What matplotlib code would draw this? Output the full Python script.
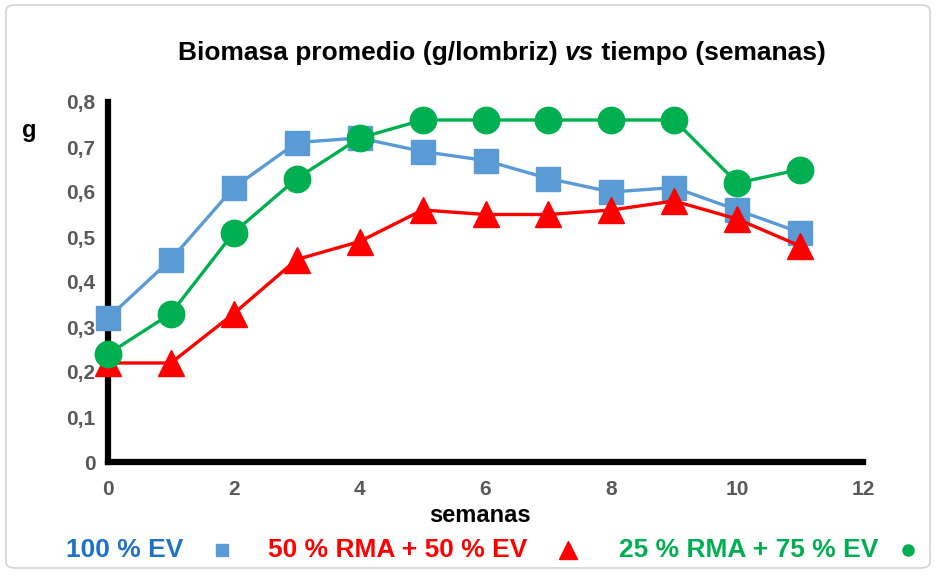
import matplotlib
matplotlib.use("Agg")
import matplotlib.pyplot as plt
from matplotlib.patches import FancyBboxPatch
from matplotlib.lines import Line2D

semanas = list(range(12))
ev100 = [0.32, 0.45, 0.61, 0.71, 0.72, 0.69, 0.67, 0.63, 0.60, 0.61, 0.56, 0.51]
rma50 = [0.22, 0.22, 0.33, 0.45, 0.49, 0.56, 0.55, 0.55, 0.56, 0.58, 0.54, 0.48]
rma25 = [0.24, 0.33, 0.51, 0.63, 0.72, 0.76, 0.76, 0.76, 0.76, 0.76, 0.62, 0.65]
xticks = [0, 2, 4, 6, 8, 10, 12]
yticks = [0, 0.1, 0.2, 0.3, 0.4, 0.5, 0.6, 0.7, 0.8]
ylabels = ["0", "0,1", "0,2", "0,3", "0,4", "0,5", "0,6", "0,7", "0,8"]

plt.rcParams['font.family'] = ['Liberation Sans', 'DejaVu Sans']
plt.rcParams['font.weight'] = 'bold'

W, H = 938, 573
fig = plt.figure(figsize=(W / 100, H / 100), dpi=100)
ax = fig.add_axes([108 / W, 1 - 462 / H, (863 - 108) / W, (462 - 102) / H])

# marco gris
fig.patches.append(FancyBboxPatch((6 / W, 5 / H), (W - 14) / W, (H - 10) / H,
                                  boxstyle="round,pad=0,rounding_size=0.01",
                                  transform=fig.transFigure, fill=False,
                                  ec='#d4d4d4', lw=1.2))

blue, red, green = '#5b9bd5', '#ff0000', '#00b050'
ax.plot(semanas, ev100, color=blue, lw=2.4, marker='s', ms=17, clip_on=False, zorder=3)
ax.plot(semanas, rma50, color=red, lw=2.4, marker='^', ms=19, clip_on=False, zorder=4)
ax.plot(semanas, rma25, color=green, lw=2.4, marker='o', ms=19, clip_on=False, zorder=5)

ax.set_xlim(0, 12)
ax.set_ylim(0, 0.8)
ax.set_xticks(xticks)
ax.set_yticks(yticks)
ax.set_yticklabels(ylabels)
ax.tick_params(length=0, labelsize=15, labelcolor='#595959')
ax.tick_params(axis='x', pad=13)
ax.tick_params(axis='y', pad=9)
for s in ['top', 'right']:
    ax.spines[s].set_visible(False)
for s in ['left', 'bottom']:
    ax.spines[s].set_linewidth(4.5)
    ax.spines[s].set_zorder(2)
    ax.spines[s].set_capstyle('projecting')

fig.text(22 / W, 1 - 130 / H, 'g', fontsize=17, fontweight='bold', ha='left', va='center')
fig.text(480 / W, 1 - 516 / H, 'semanas', fontsize=17, fontweight='bold', ha='center', va='center')

# titulo con "vs" en cursiva
fig.canvas.draw()
r = fig.canvas.get_renderer()
parts = [("Biomasa promedio (g/lombriz) ", 'normal'), ("vs", 'italic'), (" tiempo (semanas)", 'normal')]
texts = [fig.text(0, 1 - 53 / H, p, fontsize=19, fontweight='bold', style=st, va='center')
         for p, st in parts]
widths = [t.get_window_extent(r).width for t in texts]
x = 502 - sum(widths) / 2
for t, w in zip(texts, widths):
    t.set_x(x / W)
    x += w

# leyenda
ly = 1 - 550 / H
leg = [("100 % EV", '#1f72c4', 66, 's', blue, 222, 9),
       ("50 % RMA + 50 % EV", red, 268, '^', red, 568, 13),
       ("25 % RMA + 75 % EV", green, 619, 'o', green, 908, 8)]
for label, tc, tx, mk, mc, mx, ms in leg:
    fig.text(tx / W, ly, label, color=tc, fontsize=19, fontweight='bold', va='center')
    fig.add_artist(Line2D([mx / W], [ly], transform=fig.transFigure, marker=mk,
                          color=mc, ms=ms, ls='none'))

fig.savefig('out.png', dpi=100)
